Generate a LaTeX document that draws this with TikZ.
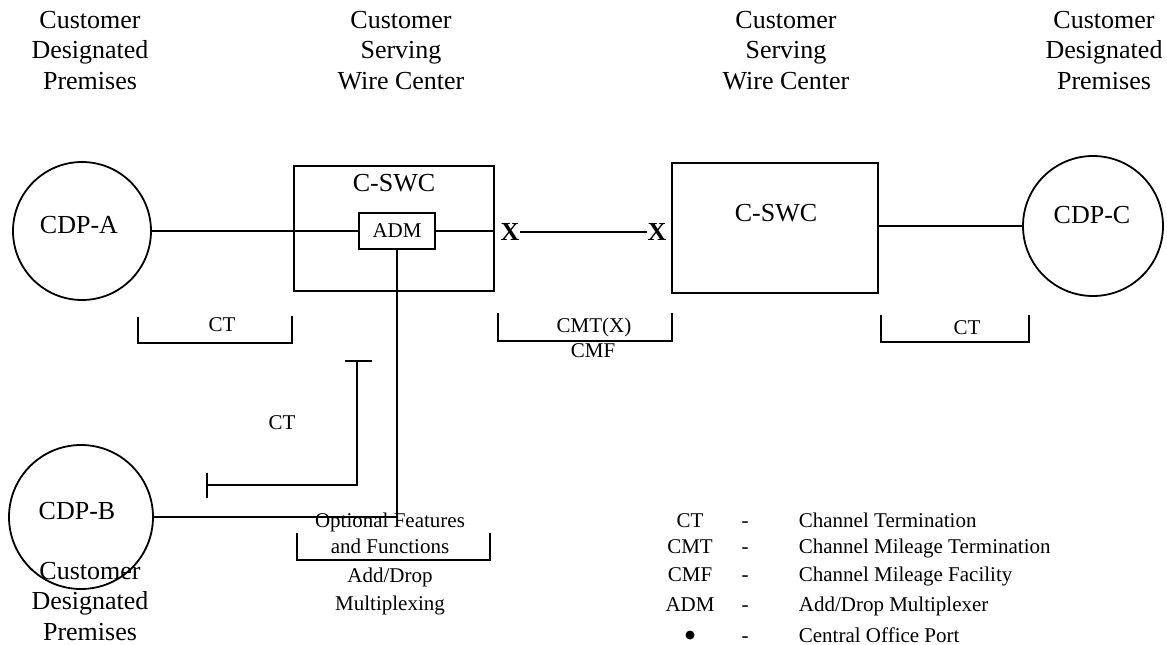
\documentclass[tikz,border=0pt]{standalone}
\usepackage{fontspec}
\setmainfont{Liberation Serif}
\begin{document}
\begin{tikzpicture}[x=1pt,y=-1pt,line width=1.8pt,
  big/.style={font=\fontsize{26}{30.5}\selectfont,align=center,inner sep=0pt,anchor=base},
  bigx/.style={font=\fontsize{26}{30.5}\selectfont\bfseries,inner sep=0pt},
  small/.style={font=\fontsize{21}{25}\selectfont,inner sep=0pt,anchor=base},
  cdp/.style={draw,circle,inner sep=0pt},
  swcbox/.style={draw,rectangle,inner sep=0pt}]
\useasboundingbox (0,0) rectangle (1167,645);

% headers (anchor = baseline of the last line)
\node[big] (h1) at (90,89) {Customer\\Designated\\Premises};
\node[big] (h2) at (401,89) {Customer\\Serving\\Wire Center};
\node[big] (h3) at (786,89) {Customer\\Serving\\Wire Center};
\node[big] (h4) at (1104,89) {Customer\\Designated\\Premises};

% customer premises
\node[cdp,minimum size=138pt] (cdpa) at (82,231) {};
\node[big] (cdpat) at (79,233) {CDP-A};
\node[cdp,minimum size=140pt] (cdpc) at (1093,226) {};
\node[big] (cdpct) at (1092,223) {CDP-C};
\node[cdp,minimum size=144pt] (cdpb) at (81,517) {};
\node[big] (cdpbt) at (77,519) {CDP-B};

% wire centers
\node[swcbox,minimum width=200pt,minimum height=125pt] (swc1) at (394,228.5) {};
\node[big] (swc1t) at (394,191) {C-SWC};
\node[swcbox,minimum width=206pt,minimum height=130pt] (swc2) at (775,228) {};
\node[big] (swc2t) at (776,221) {C-SWC};
\node[swcbox,minimum width=76pt,minimum height=36pt,font=\fontsize{21}{25}\selectfont] (adm) at (397,231) {ADM};

% X ports
\node[bigx] (x1) at (510,232) {X};
\node[bigx] (x2) at (657,232) {X};

% connectors
\draw (cdpa.east) -- (adm.west);
\draw (adm.east) -- (swc1.east |- adm.east);
\draw (x1.east) -- (x2.west);
\draw (cdpc.west -| swc2.east) -- (cdpc.west);
\coordinate (j) at (397,517);
\draw (adm.south) -- (j);
\draw (cdpb.east) -- (j);

% brackets
\draw (138,317) -- (138,343) -- (292,343) -- (292,316);
\node[small] (ct1) at (222,331) {CT};
\draw (498,313) -- (498,341) -- (672,341) -- (672,313);
\node[small] (cmt) at (594,332) {CMT(X)};
\node[small] (cmf) at (593,357) {CMF};
\draw (881,315) -- (881,342) -- (1029,342) -- (1029,315);
\node[small] (ct3) at (967,334) {CT};
\draw (345,361) -- (372,361);
\draw (357,361) -- (357,485) -- (207,485);
\draw (207,473) -- (207,498);
\node[small] (ct2) at (282,429) {CT};
\draw (297,533) -- (297,560) -- (490,560) -- (490,533);

% optional features
\node[small] (opt1) at (390,527) {Optional Features};
\node[small] (opt2) at (390,553) {and Functions};
\node[small] (opt3) at (390,582) {Add/Drop};
\node[small] (opt4) at (390,610) {Multiplexing};

% bottom-left label (anchor = baseline of the last line)
\node[big] (h5) at (90,640) {Customer\\Designated\\Premises};

% legend
\node[small] (l1a) at (690,527) {CT};
\node[small] (l1b) at (745,527) {-};
\node[small,anchor=base west] (l1c) at (798,527) {Channel Termination};
\node[small] (l2a) at (690,553) {CMT};
\node[small] (l2b) at (745,553) {-};
\node[small,anchor=base west] (l2c) at (798,553) {Channel Mileage Termination};
\node[small] (l3a) at (690,581) {CMF};
\node[small] (l3b) at (745,581) {-};
\node[small,anchor=base west] (l3c) at (798,581) {Channel Mileage Facility};
\node[small] (l4a) at (690,611) {ADM};
\node[small] (l4b) at (745,611) {-};
\node[small,anchor=base west] (l4c) at (798,611) {Add/Drop Multiplexer};
\fill (690,635) circle[radius=4.5pt];
\node[small] (l5b) at (745,642) {-};
\node[small,anchor=base west] (l5c) at (798,642) {Central Office Port};
\end{tikzpicture}
\end{document}
